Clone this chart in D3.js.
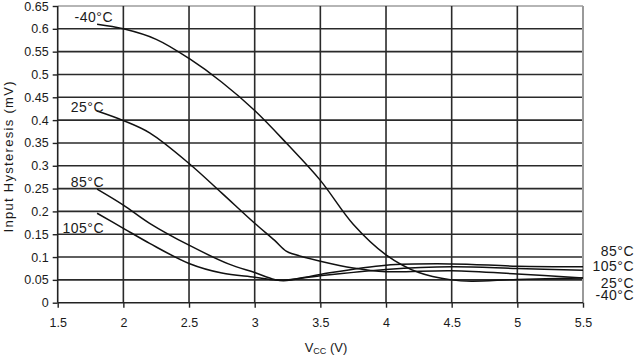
<!DOCTYPE html>
<html><head><meta charset="utf-8">
<script src="https://cdn.jsdelivr.net/npm/d3@7"></script>
<style>
html,body{margin:0;padding:0;background:#fff;}
svg text{font-family:"Liberation Sans",Arial,Helvetica,sans-serif;fill:#1a1a1a;}
</style></head>
<body><svg id="chart" width="636" height="356"></svg>
<script>
const xTicks = [1.5, 2, 2.5, 3, 3.5, 4, 4.5, 5, 5.5];
const yTicks = [0, 0.05, 0.1, 0.15, 0.2, 0.25, 0.3, 0.35, 0.4, 0.45, 0.5, 0.55, 0.6, 0.65];

const vM40 = [[1.8,0.61],[2.0,0.60],[2.25,0.577],[2.5,0.535],[2.75,0.483],[3.0,0.421],[3.25,0.347],[3.5,0.268],[3.75,0.172],[4.0,0.105],[4.25,0.066],[4.5,0.050],[4.65,0.047],[5.0,0.051],[5.5,0.054]];
const v25 = [[1.8,0.42],[2.0,0.399],[2.2,0.372],[2.5,0.305],[2.75,0.24],[3.0,0.174],[3.15,0.137],[3.24,0.113],[3.3,0.106],[3.5,0.091],[3.75,0.076],[4.0,0.068],[4.5,0.070],[5.0,0.063],[5.5,0.054]];
const v85 = [[1.8,0.249],[2.0,0.214],[2.2,0.174],[2.5,0.126],[2.8,0.085],[3.0,0.066],[3.15,0.051],[3.22,0.048],[3.5,0.062],[4.0,0.082],[4.5,0.085],[5.0,0.080],[5.5,0.079]];
const v105 = [[1.8,0.196],[2.0,0.163],[2.2,0.130],[2.5,0.086],[2.75,0.065],[3.0,0.056],[3.15,0.050],[3.22,0.049],[3.5,0.059],[4.0,0.073],[4.5,0.079],[5.0,0.075],[5.5,0.071]];

const seriesNames = ["-40°C", "25°C", "85°C", "105°C"];
const seriesValues = [vM40, v25, v85, v105];
const rightLabels = ["85°C","105°C","25°C","-40°C"];

const svg = d3.select("#chart");
const L = 57.7, R = 583, T = 6, B = 302.7;
const x = d3.scaleLinear().domain([1.5,5.5]).range([L,R]);
const y = d3.scaleLinear().domain([0,0.65]).range([B,T]);

// grid
const g = svg.append("g");
g.selectAll("line.h").data(yTicks.filter(d=>d>0)).join("line")
  .attr("x1",L).attr("x2",R).attr("y1",d=>y(d)).attr("y2",d=>y(d))
  .attr("stroke",d=>d===0.65?"#b5b5b5":"#2a2a2a").attr("stroke-width",d=>d===0.65?2:1.6);
g.selectAll("line.v").data(xTicks.filter(d=>d>1.5)).join("line")
  .attr("y1",T).attr("y2",B).attr("x1",d=>x(d)).attr("x2",d=>x(d))
  .attr("stroke",d=>d===5.5?"#9a9a9a":"#2a2a2a").attr("stroke-width",d=>d===5.5?2:1.6);

// axes
const ax = svg.append("g").attr("transform",`translate(0,${B})`)
  .call(d3.axisBottom(x).tickValues(xTicks).tickSize(5).tickPadding(10).tickFormat(d3.format("")));
const ay = svg.append("g").attr("transform",`translate(${L},0)`)
  .call(d3.axisLeft(y).tickValues(yTicks).tickSize(5).tickPadding(4).tickFormat(d=>d3.format("")(+d.toFixed(2))));
[ax,ay].forEach(a=>{
  a.select(".domain").attr("stroke","#222").attr("stroke-width",1.6);
  a.selectAll(".tick line").attr("stroke","#222").attr("stroke-width",1.4);
  a.selectAll(".tick text").attr("font-size","12.5px").attr("fill","#222");
});
ax.select(".domain").attr("d",`M${L},0H${R}`);
ay.select(".domain").attr("d",`M0,${B}V${T}`);

// lines
const line = d3.line().x(d=>x(d[0])).y(d=>y(d[1])).curve(d3.curveCatmullRom.alpha(0.5));
svg.append("g").selectAll("path").data(seriesValues).join("path")
  .attr("d",d=>line(d)).attr("fill","none").attr("stroke","#111").attr("stroke-width",1.5);

// left labels (pixel anchors: right edge, baseline)
const leftPos = [[113,22],[104,112],[104,186.5],[104,232.5]];
svg.append("g").selectAll("text").data(seriesNames).join("text")
  .attr("x",(d,i)=>leftPos[i][0]).attr("y",(d,i)=>leftPos[i][1])
  .attr("text-anchor","end").attr("font-size","14px").attr("letter-spacing","0.5px").text(d=>d);

// right labels
const rY = [256, 271, 288, 299.5];
svg.append("g").selectAll("text").data(rightLabels).join("text")
  .attr("x",634).attr("y",(d,i)=>rY[i]).attr("text-anchor","end")
  .attr("font-size","14px").attr("letter-spacing","0.5px").text(d=>d);

// axis titles
const xt = svg.append("text").attr("x",326).attr("y",352).attr("text-anchor","middle").attr("font-size","13px");
xt.append("tspan").text("V");
xt.append("tspan").attr("font-size","9px").attr("dy",2).text("CC");
xt.append("tspan").attr("dy",-2).text(" (V)");
svg.append("text").attr("transform","translate(13,157) rotate(-90)")
  .attr("text-anchor","middle").attr("font-size","13px")
  .attr("textLength",151).attr("lengthAdjust","spacing").text("Input Hysteresis (mV)");
</script></body></html>
